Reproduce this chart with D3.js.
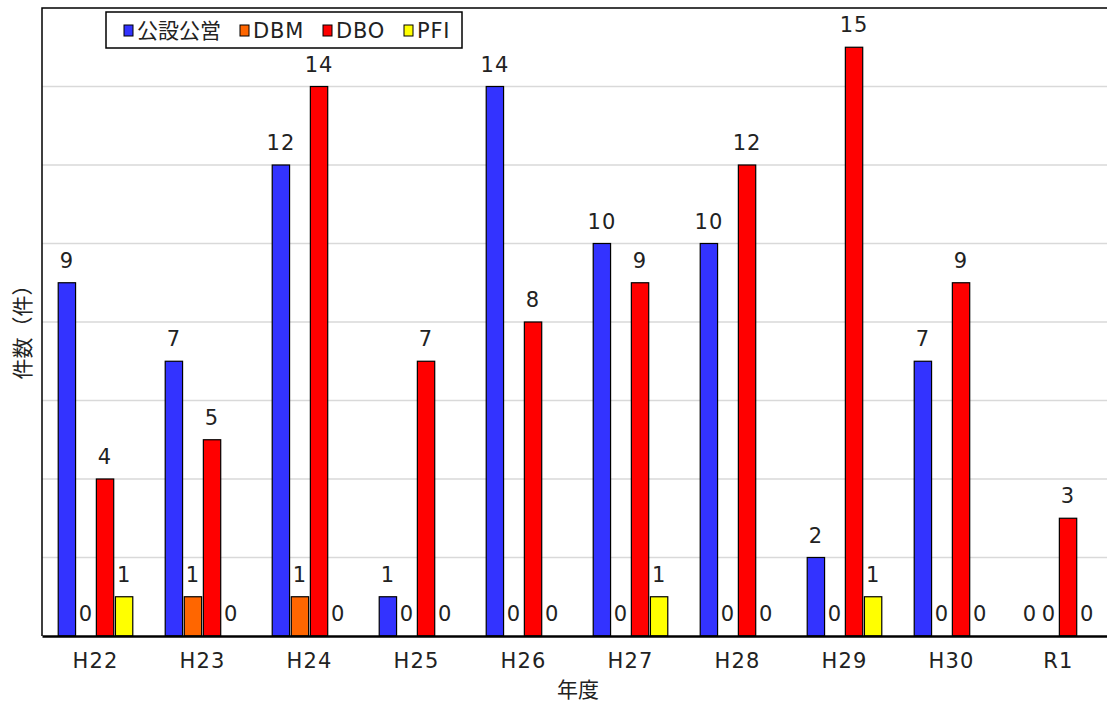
<!DOCTYPE html>
<html>
<head>
<meta charset="utf-8">
<script src="https://cdn.jsdelivr.net/npm/d3@7"></script>
<style>
  body { margin: 0; background: #fff; }
  svg { display: block; font-family: "DejaVu Sans", "Noto Sans CJK JP", sans-serif; }
</style>
</head>
<body>
<svg id="chart" width="1107" height="706"></svg>
<script>
// 年度別の事業方式件数
const years = ["H22", "H23", "H24", "H25", "H26", "H27", "H28", "H29", "H30", "R1"];
const seriesNames = ["公設公営", "DBM", "DBO", "PFI"];
const seriesColors = ["#3333FF", "#FF6600", "#FF0000", "#FFFF00"];
const koseiKoei = [9, 7, 12, 1, 14, 10, 10, 2, 7, 0];
const dbm = [0, 1, 1, 0, 0, 0, 0, 0, 0, 0];
const dbo = [4, 5, 14, 7, 8, 9, 12, 15, 9, 3];
const pfi = [1, 0, 0, 0, 0, 1, 0, 1, 0, 0];
const yTicks = [2, 4, 6, 8, 10, 12, 14];

const seriesValues = [koseiKoei, dbm, dbo, pfi];

const latinFont = "DejaVu Sans, sans-serif";
const jpFont = "Noto Sans CJK JP, sans-serif";
const textColor = "#222";

const svg = d3.select("#chart");
const plot = { left: 42, right: 1112, top: 8, bottom: 636 };

const x0 = d3.scaleBand().domain(years).range([plot.left, plot.right]).paddingInner(0).paddingOuter(0);
const x1 = d3.scaleBand().domain(d3.range(seriesNames.length))
  .range([x0.bandwidth() / 2 - 39, x0.bandwidth() / 2 + 39]).padding(0.09);
const y = d3.scaleLinear().domain([0, 16]).range([plot.bottom, plot.top]);

// gridlines
svg.append("g").selectAll("line").data(yTicks).join("line")
  .attr("x1", plot.left).attr("x2", plot.right)
  .attr("y1", d => y(d)).attr("y2", d => y(d))
  .attr("stroke", "#d9d9d9").attr("stroke-width", 1.3);

// frame (left and top)
svg.append("path")
  .attr("d", `M${plot.left},${plot.bottom} V${plot.top} H${plot.right}`)
  .attr("fill", "none").attr("stroke", "#000").attr("stroke-width", 1.5);

// bars and value labels
const groups = svg.append("g").selectAll("g").data(years).join("g")
  .attr("transform", d => `translate(${x0(d)},0)`);

groups.each(function (yr, i) {
  const g = d3.select(this);
  seriesValues.forEach((vals, s) => {
    const v = vals[i];
    const bx = x1(s);
    const bw = x1.bandwidth();
    if (v > 0) {
      g.append("rect")
        .attr("x", bx).attr("y", y(v))
        .attr("width", bw).attr("height", y(0) - y(v))
        .attr("fill", seriesColors[s]).attr("stroke", "#000").attr("stroke-width", 1.2);
    }
    g.append("text")
      .attr("x", bx + bw / 2).attr("y", y(v) - 15)
      .attr("text-anchor", "middle")
      .attr("font-family", latinFont)
      .attr("font-size", 21).attr("letter-spacing", 1).attr("fill", textColor)
      .text(v);
  });
});

// bottom axis
const xAxis = d3.axisBottom(x0).tickSize(0).tickPadding(17);
const ax = svg.append("g").attr("transform", `translate(0,${plot.bottom})`).call(xAxis);
ax.select(".domain").attr("stroke", "#000").attr("stroke-width", 2.5);
ax.selectAll("text").attr("font-size", 21).attr("fill", textColor)
  .attr("letter-spacing", 1.2).attr("font-family", latinFont);

// axis titles
svg.append("text").attr("x", 578).attr("y", 697).attr("text-anchor", "middle")
  .attr("font-family", jpFont).attr("font-size", 21).attr("fill", textColor).text("年度");
svg.append("text").attr("transform", "translate(30,327) rotate(-90)")
  .attr("text-anchor", "middle").attr("font-family", jpFont)
  .attr("font-size", 21).attr("fill", textColor).text("件数（件）");

// legend
const legend = svg.append("g");
legend.append("rect").attr("x", 106).attr("y", 12).attr("width", 356).attr("height", 36)
  .attr("fill", "#fff").attr("stroke", "#000").attr("stroke-width", 1.5);
const legendX = [124, 240, 323, 404];
seriesNames.forEach((n, s) => {
  legend.append("rect").attr("x", legendX[s]).attr("y", 25).attr("width", 9).attr("height", 11)
    .attr("fill", seriesColors[s]).attr("stroke", "#000").attr("stroke-width", 1);
  legend.append("text").attr("x", legendX[s] + 13).attr("y", 38)
    .attr("font-family", s === 0 ? jpFont : latinFont)
    .attr("letter-spacing", s === 0 ? 0 : 0.8)
    .attr("font-size", 21).attr("fill", textColor).text(n);
});
</script>
</body>
</html>
